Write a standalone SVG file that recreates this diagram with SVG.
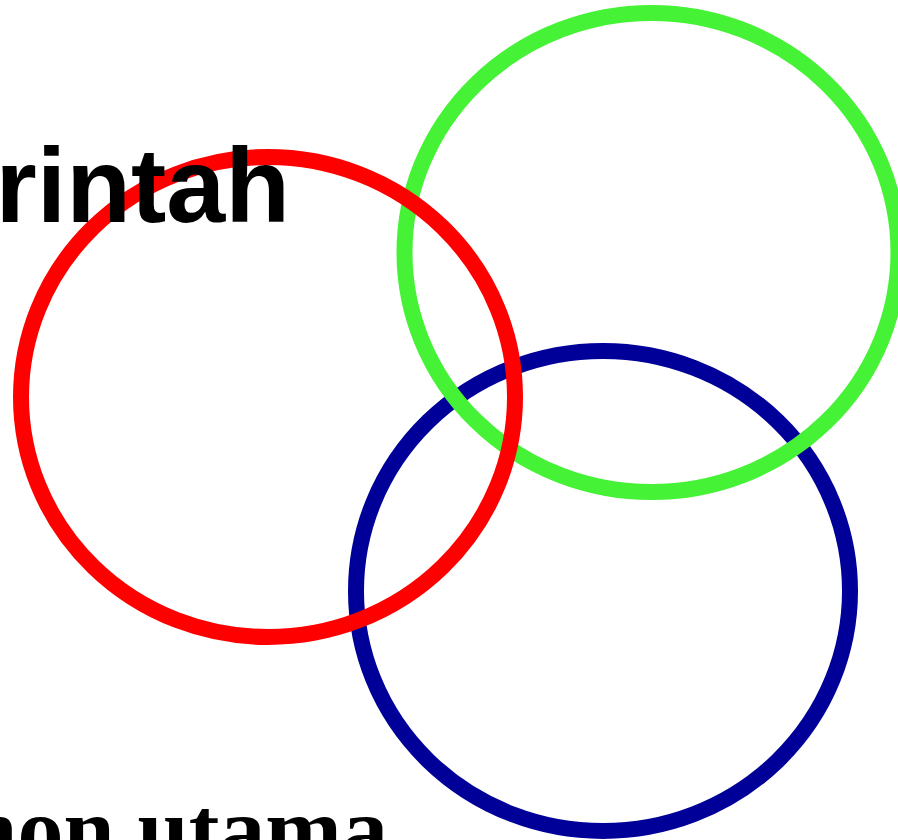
<svg xmlns="http://www.w3.org/2000/svg" width="898" height="840" viewBox="0 0 898 840">
<style>
.ring{fill:none;stroke-width:16}
.t1{font-family:"Liberation Sans",Arial,sans-serif;font-weight:bold;font-size:106px;fill:#000}
.t2{font-family:"Liberation Serif","Times New Roman",serif;font-weight:bold;font-size:92px;fill:#000}
</style>
<rect width="898" height="840" fill="#fff"/>
<g id="blue"><ellipse class="ring" cx="603" cy="591" rx="247" ry="240" stroke="#000099"/></g>
<g id="green"><ellipse class="ring" cx="651.5" cy="252.5" rx="247" ry="239.5" stroke="#45f236"/></g>
<g id="red"><ellipse class="ring" cx="268" cy="397" rx="247" ry="240" stroke="#ff0000"/></g>
<g id="labels">
<text class="t1" x="290" y="222" text-anchor="end">rintah</text>
<text class="t2" x="388" y="860" text-anchor="end">hon utama</text>
</g>
</svg>
